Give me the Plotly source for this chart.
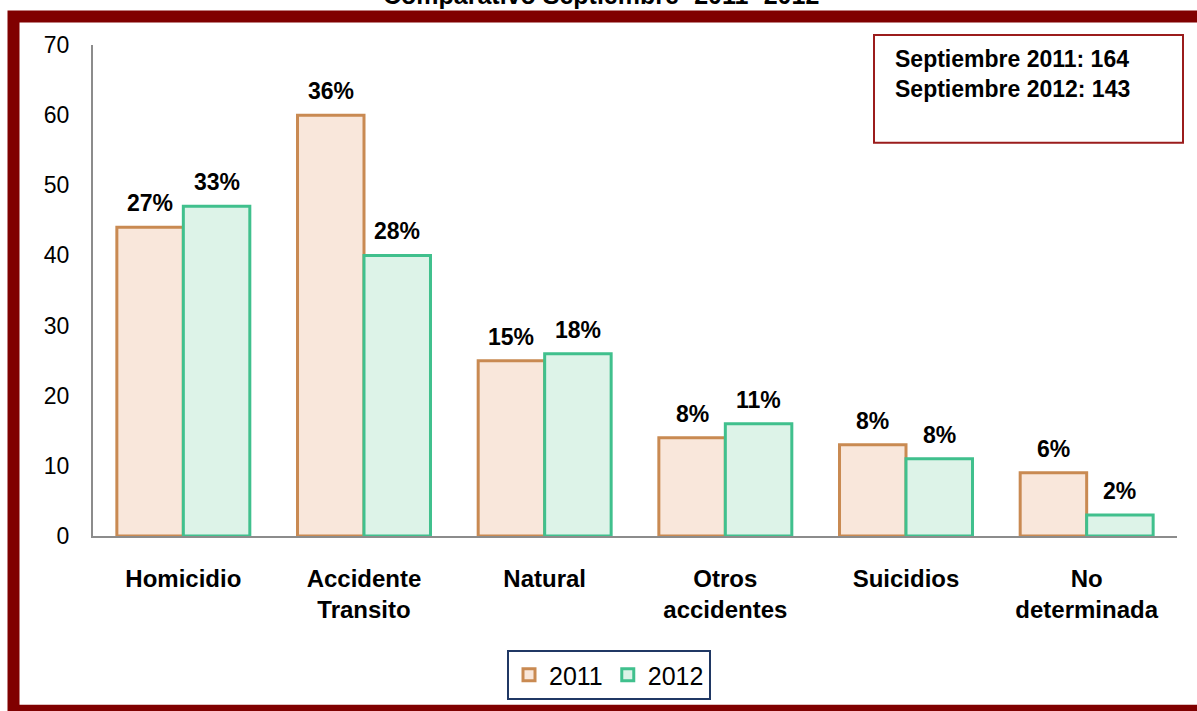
import plotly.graph_objects as go

# ---- data ----
categories = ["Homicidio", "Accidente<br>Transito", "Natural", "Otros<br>accidentes", "Suicidios", "No<br>determinada"]
values_2011 = [44, 60, 25, 14, 13, 9]
values_2012 = [47, 40, 26, 16, 11, 3]
pct_2011 = ["27%", "36%", "15%", "8%", "8%", "6%"]
pct_2012 = ["33%", "28%", "18%", "11%", "8%", "2%"]
y_ticks = [0, 10, 20, 30, 40, 50, 60, 70]
title_text = "Comparativo Septiembre- 2011- 2012"
box_lines = ["Septiembre 2011: 164", "Septiembre 2012: 143"]

FONT = "Liberation Sans, Arial, sans-serif"
W, H = 1197, 711
ML, MR, MT, MB = 93, 20, 45, 174
PW, PH = W - ML - MR, H - MT - MB


def xp(px):
    return (px - ML) / PW


def yp(py):
    return (H - MB - py) / PH


fig = go.Figure()
fig.add_trace(go.Bar(
    x=categories, y=values_2011, name="2011",
    marker=dict(color="#F9E7DB", line=dict(color="#C98A52", width=3)),
))
fig.add_trace(go.Bar(
    x=categories, y=values_2012, name="2012",
    marker=dict(color="#DDF3E8", line=dict(color="#40C08D", width=3)),
))

bargap = 0.264
half_bar = PW / len(categories) * (1 - bargap) / 4

annotations = []
for cat, v, t in zip(categories, values_2011, pct_2011):
    annotations.append(dict(x=cat, y=v, text=t, showarrow=False, xshift=-half_bar, yshift=9,
                            yanchor="bottom", font=dict(family=FONT, size=23, color="black", weight="bold")))
for cat, v, t in zip(categories, values_2012, pct_2012):
    annotations.append(dict(x=cat, y=v, text=t, showarrow=False, xshift=half_bar, yshift=9,
                            yanchor="bottom", font=dict(family=FONT, size=23, color="black", weight="bold")))

# title (cut off at top in the reference)
annotations.append(dict(x=(601 - ML) / PW, y=yp(-5), xref="paper", yref="paper", text=title_text,
                        showarrow=False, xanchor="center", yanchor="middle",
                        font=dict(family=FONT, size=25, color="black", weight="bold")))
# totals box text
annotations.append(dict(x=xp(893), y=yp(44), xref="paper", yref="paper", text="<br>".join(box_lines),
                        showarrow=False, xanchor="left", yanchor="top", align="left",
                        font=dict(family=FONT, size=23, color="black", weight="bold")))

shapes = [
    # outer dark red frame
    dict(type="rect", xref="paper", yref="paper", x0=xp(13.5), x1=xp(1215), y0=yp(712), y1=yp(16.5),
         line=dict(color="#800000", width=12), fillcolor="rgba(0,0,0,0)", layer="above"),
    # totals box
    dict(type="rect", xref="paper", yref="paper", x0=xp(874), x1=xp(1183), y0=yp(143), y1=yp(35),
         line=dict(color="#9B1C1C", width=2), fillcolor="rgba(0,0,0,0)"),
]

fig.update_layout(
    width=W, height=H,
    margin=dict(l=ML, r=MR, t=MT, b=MB),
    paper_bgcolor="white", plot_bgcolor="white",
    barmode="group", bargap=bargap, bargroupgap=0,
    showlegend=True,
    legend=dict(orientation="h", x=xp(609), xref="paper", y=yp(675), yanchor="middle", xanchor="center",
                bordercolor="#203864", borderwidth=2, bgcolor="white",
                font=dict(family=FONT, size=25, color="black"), itemwidth=30),
    annotations=annotations,
    shapes=shapes,
    font=dict(family=FONT, color="black"),
)
fig.update_xaxes(showline=True, linecolor="#8C8C8C", linewidth=2, showgrid=False, ticks="",
                 tickfont=dict(family=FONT, size=24, color="black", weight="bold"),
                 ticklabelstandoff=20)
fig.update_yaxes(range=[0, 70], tickvals=y_ticks, showline=True, linecolor="#8C8C8C", linewidth=2,
                 showgrid=False, zeroline=False, ticks="",
                 tickfont=dict(family=FONT, size=23, color="black"), ticklabelstandoff=17)

fig.write_html("out.html", config={"displayModeBar": False},
               post_script="document.body.style.margin='0';document.body.style.overflow='hidden';")
